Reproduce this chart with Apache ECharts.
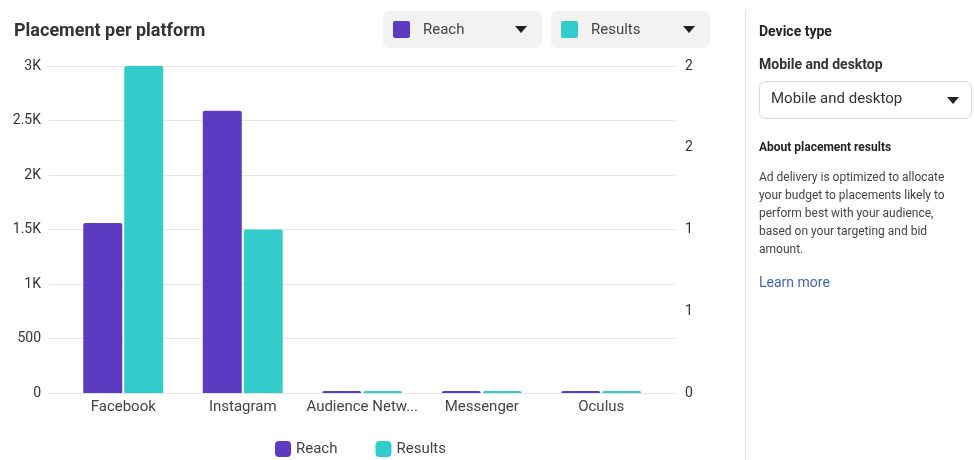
<!DOCTYPE html>
<html>
<head>
<meta charset="utf-8">
<script src="https://cdn.jsdelivr.net/npm/echarts@6/dist/echarts.min.js"></script>
<style>
html,body{margin:0;padding:0;background:#fff;}
#chart{width:975px;height:460px;}
</style>
</head>
<body>
<div id="chart"></div>
<script>
const categories = ['Facebook', 'Instagram', 'Audience Network', 'Messenger', 'Oculus'];
const reachValues = [1560, 2590, 5, 5, 5];
const resultsValues = [2, 1, 0.005, 0.005, 0.005];
const reachTicks = {min: 0, max: 3000, interval: 500};
const resultsTicks = {min: 0, max: 2, interval: 0.5};
const seriesNames = ['Reach', 'Results'];
const panelText = [
  'Ad delivery is optimized to allocate',
  'your budget to placements likely to',
  'perform best with your audience,',
  'based on your targeting and bid',
  'amount.'
];

const PURPLE = '#5C3AC2';
const TEAL = '#33CCCC';
const FONT = 'Roboto';

const chart = echarts.init(document.getElementById('chart'), null, {renderer: 'canvas'});

function dropdown(x, y, w, h, color, label) {
  return {
    type: 'group', left: x, top: y,
    children: [
      {type: 'rect', shape: {x: 0, y: 0, width: w, height: h, r: 6}, style: {fill: '#f2f2f2'}},
      {type: 'rect', shape: {x: 10, y: 10, width: 17, height: 17, r: 2}, style: {fill: color}},
      {type: 'text', x: 40, y: h / 2 + 1, style: {text: label, font: '15px ' + FONT, fill: '#444', textVerticalAlign: 'middle'}},
      {type: 'polygon', shape: {points: [[w - 27, 15], [w - 15, 15], [w - 21, 22]]}, style: {fill: '#222'}}
    ]
  };
}

const graphics = [
  {type: 'text', left: 14, top: 22, style: {text: 'Placement per platform', font: 'bold 18px ' + FONT, fill: '#333'}},
  dropdown(383, 11, 159, 37, PURPLE, seriesNames[0]),
  dropdown(551, 11, 159, 37, TEAL, seriesNames[1]),
  {type: 'line', shape: {x1: 745.5, y1: 10, x2: 745.5, y2: 460}, style: {stroke: '#e4e4e4', lineWidth: 1}},
  {type: 'text', left: 759, top: 25, style: {text: 'Device type', font: 'bold 14px ' + FONT, fill: '#222'}},
  {type: 'text', left: 759, top: 58, style: {text: 'Mobile and desktop', font: 'bold 14px ' + FONT, fill: '#333'}},
  {type: 'rect', shape: {x: 759.5, y: 81.5, width: 212, height: 37, r: 6}, style: {fill: '#fff', stroke: '#d6d6d6', lineWidth: 1}},
  {type: 'text', left: 771, top: 92, style: {text: 'Mobile and desktop', font: '15px ' + FONT, fill: '#333'}},
  {type: 'polygon', shape: {points: [[947, 97], [959, 97], [953, 104]]}, style: {fill: '#222'}},
  {type: 'text', left: 759, top: 142, style: {text: 'About placement results', font: 'bold 12px ' + FONT, fill: '#222'}},
  {type: 'text', left: 759, top: 169, style: {text: panelText.join('\n'), font: '12px ' + FONT, fill: '#444', lineHeight: 18}},
  {type: 'text', left: 759, top: 276, style: {text: 'Learn more', font: '14px ' + FONT, fill: '#4267B2'}}
];

const option = {
  animation: false,
  textStyle: {fontFamily: FONT},
  graphic: graphics,
  legend: {
    data: seriesNames,
    left: 270, top: 436,
    itemWidth: 16, itemHeight: 16, itemGap: 38,
    icon: 'roundRect',
    textStyle: {fontSize: 15, color: '#444', fontFamily: FONT}
  },
  grid: [
    {left: 49, right: 300, top: 66, bottom: 67},
    {left: 63.5, right: 314, top: 66, bottom: 67}
  ],
  xAxis: [
    {type: 'value', gridIndex: 0, show: false, min: 0, max: 1},
    {
      type: 'category', gridIndex: 1, data: categories,
      axisLine: {show: false}, axisTick: {show: false},
      axisLabel: {fontSize: 15, color: '#444', margin: 7, interval: 0, width: 116, overflow: 'truncate', ellipsis: '...'}
    }
  ],
  yAxis: [
    {
      type: 'value', gridIndex: 0, position: 'left',
      min: reachTicks.min, max: reachTicks.max, interval: reachTicks.interval,
      axisLine: {show: false}, axisTick: {show: false},
      splitLine: {lineStyle: {color: '#e6e6e6', width: 1}},
      axisLabel: {fontSize: 14, color: '#333', margin: 8, formatter: v => v >= 1000 ? (v / 1000) + 'K' : String(v)}
    },
    {
      type: 'value', gridIndex: 0, position: 'right',
      min: resultsTicks.min, max: resultsTicks.max, interval: resultsTicks.interval,
      axisLine: {show: false}, axisTick: {show: false}, splitLine: {show: false},
      axisLabel: {fontSize: 14, color: '#333', margin: 10, formatter: v => String(Math.round(v))}
    },
    {type: 'value', gridIndex: 1, show: false, min: reachTicks.min, max: reachTicks.max},
    {type: 'value', gridIndex: 1, show: false, min: resultsTicks.min, max: resultsTicks.max}
  ],
  series: [
    {
      name: seriesNames[0], type: 'bar', xAxisIndex: 1, yAxisIndex: 2,
      data: reachValues, barWidth: 39, barGap: '5%', barMinHeight: 2,
      itemStyle: {color: PURPLE, borderRadius: [2, 2, 0, 0]}
    },
    {
      name: seriesNames[1], type: 'bar', xAxisIndex: 1, yAxisIndex: 3,
      data: resultsValues, barWidth: 39, barGap: '5%', barMinHeight: 2,
      itemStyle: {color: TEAL, borderRadius: [2, 2, 0, 0]}
    }
  ]
};
chart.setOption(option);
</script>
</body>
</html>
